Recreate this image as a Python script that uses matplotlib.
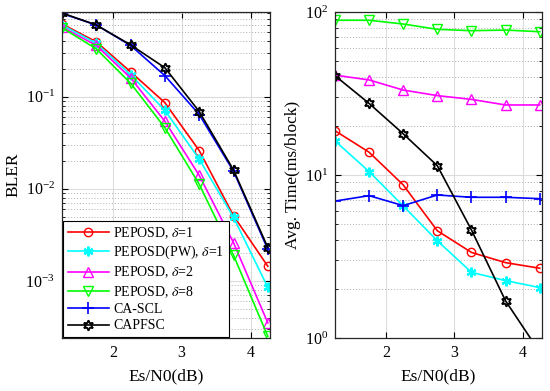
import matplotlib
matplotlib.use("Agg")
import matplotlib.pyplot as plt
from matplotlib.ticker import LogLocator, NullFormatter, FixedLocator

plt.rcParams['font.family'] = ['Liberation Serif', 'DejaVu Serif']
plt.rcParams['mathtext.fontset'] = 'stix'
plt.rcParams['axes.formatter.use_mathtext'] = True

snr = [1.25, 1.75, 2.25, 2.75, 3.25, 3.75, 4.25]

labels = [r'PEPOSD, $\delta$=1', r'PEPOSD(PW), $\delta$=1', r'PEPOSD, $\delta$=2',
          r'PEPOSD, $\delta$=8', 'CA-SCL', 'CAPFSC']

bler_peposd1 = [0.615, 0.394, 0.186, 0.086, 0.026, 0.0051, 0.00144]
bler_pw1 = [0.60, 0.38, 0.173, 0.071, 0.021, 0.0049, 0.00085]
bler_peposd2 = [0.57, 0.36, 0.16, 0.054, 0.014, 0.0026, 0.00035]
bler_peposd8 = [0.56, 0.33, 0.14, 0.046, 0.0112, 0.0019, 0.00025]
bler_cascl = [0.80, 0.60, 0.36, 0.169, 0.064, 0.0155, 0.0022]
bler_capfsc = [0.81, 0.60, 0.365, 0.206, 0.069, 0.016, 0.0023]

time_peposd1 = [18.7, 13.8, 8.7, 4.55, 3.35, 2.9, 2.68]
time_pw1 = [16.2, 10.5, 6.46, 3.95, 2.53, 2.25, 2.04]
time_peposd2 = [41.0, 38.3, 33.2, 30.7, 29.1, 26.9, 26.9]
time_peposd8 = [89.0, 89.0, 84.4, 78.3, 76.8, 77.5, 75.7]
time_cascl = [6.92, 7.47, 6.49, 7.54, 7.3, 7.3, 7.16]
time_capfsc = [40.7, 27.5, 17.9, 11.4, 4.6, 1.69, 0.82]

styles = [
    dict(color=(1, 0, 0), marker='o', mfc='none', ms=6),
    dict(color=(0, 1, 1), marker=(6, 2, 0), ms=7, mew=1.6),
    dict(color=(1, 0, 1), marker='^', mfc='none', ms=6.5),
    dict(color=(0, 1, 0), marker='v', mfc='none', ms=6.5),
    dict(color=(0, 0, 1), marker='+', ms=8, mew=1.2),
    dict(color=(0, 0, 0), marker=(6, 1, 0), mfc='none', ms=7.5, mew=1.3),
]

fig = plt.figure(figsize=(5.5, 3.91), dpi=100)
ax1 = fig.add_axes([0.1127, 0.1355, 0.378, 0.8338])
ax2 = fig.add_axes([0.609, 0.1355, 0.376, 0.8338])

bler = [bler_peposd1, bler_pw1, bler_peposd2, bler_peposd8, bler_cascl, bler_capfsc]
times = [time_peposd1, time_pw1, time_peposd2, time_peposd8, time_cascl, time_capfsc]

for ys, st, lab in zip(bler, styles, labels):
    ax1.semilogy(snr, ys, lw=1.2, label=lab, **st)
for ys, st, lab in zip(times, styles, labels):
    ax2.semilogy(snr, ys, lw=1.2, label=lab, **st)

ax1.set_xlim(1.25, 4.28)
ax1.set_ylim(2.4e-4, 0.83)
ax2.set_xlim(1.25, 4.28)
ax2.set_ylim(1, 100)

for ax in (ax1, ax2):
    ax.xaxis.set_major_locator(FixedLocator([2, 3, 4]))
    ax.yaxis.set_major_locator(LogLocator(base=10, numticks=10))
    ax.yaxis.set_minor_locator(LogLocator(base=10, subs=range(2, 10), numticks=10))
    ax.yaxis.set_minor_formatter(NullFormatter())
    ax.grid(True, which='major', color='#dcdcdc', lw=0.8, ls='-')
    ax.grid(True, which='minor', axis='y', color='#b0b0b0', lw=0.7, ls=(0, (1, 2)))
    ax.set_axisbelow(True)
    ax.tick_params(which='both', direction='in', top=True, right=True, labelsize=11.5)
    ax.tick_params(which='major', length=4, width=0.8, pad=5)
    ax.tick_params(which='minor', length=2, width=0.6)
    for sp in ax.spines.values():
        sp.set_linewidth(0.9)
        sp.set_color('#262626')
    ax.set_xlabel('Es/N0(dB)', fontsize=12.5, labelpad=5)

ax1.set_ylabel('BLER', fontsize=12.5, labelpad=3)
ax2.set_ylabel('Avg. Time(ms/block)', fontsize=12.5, labelpad=3)

leg = ax1.legend(loc='lower left', fontsize=10, frameon=True, fancybox=False,
                 edgecolor='black', framealpha=1, borderpad=0.3, labelspacing=0.25,
                 handlelength=3.0, handletextpad=0.3, borderaxespad=0.1)
leg.get_frame().set_linewidth(0.8)

fig.savefig('out.png', dpi=100)
